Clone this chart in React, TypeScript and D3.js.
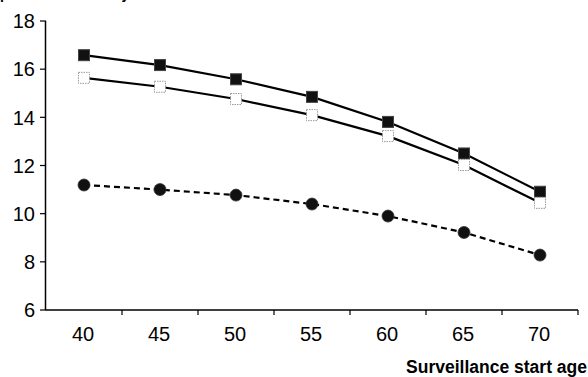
import * as d3 from "d3";
import { useEffect, useRef } from "react";

const WIDTH = 588;
const HEIGHT = 377;
const MARGIN = { top: 21, right: 10, bottom: 67, left: 46 };

const ages = [40, 45, 50, 55, 60, 65, 70];
const filledSquare = [16.58, 16.17, 15.58, 14.85, 13.81, 12.5, 10.91];
const openSquare = [15.64, 15.27, 14.76, 14.09, 13.22, 12.02, 10.45];
const circles = [11.19, 11.0, 10.77, 10.4, 9.9, 9.22, 8.28];
const yTicks = [6, 8, 10, 12, 14, 16, 18];

const FONT = "'Liberation Sans', Arial, sans-serif";

export default function App() {
  const ref = useRef<SVGSVGElement>(null);

  useEffect(() => {
    const svg = d3.select(ref.current);
    svg.selectAll("*").remove();

    const innerW = WIDTH - MARGIN.left - MARGIN.right;
    const innerH = HEIGHT - MARGIN.top - MARGIN.bottom;
    const g = svg.append("g").attr("transform", `translate(${MARGIN.left},${MARGIN.top})`);

    const x = d3.scaleBand<number>().domain(ages).range([0, innerW]).padding(0);
    const y = d3.scaleLinear().domain([6, 18]).range([innerH, 0]);
    const cx = (a: number) => (x(a) ?? 0) + x.bandwidth() / 2;

    // heading cut off by the top edge in the source (only descenders show)
    svg
      .append("text")
      .attr("x", 0)
      .attr("y", -1)
      .attr("font-family", FONT)
      .attr("font-weight", "bold")
      .attr("font-size", 14)
      .text("per 1000 women by");

    // y axis
    g.append("line")
      .attr("x1", -0.5)
      .attr("x2", -0.5)
      .attr("y1", y(18))
      .attr("y2", innerH)
      .attr("stroke", "#000")
      .attr("stroke-width", 1.5);
    g.append("g")
      .selectAll("line")
      .data(yTicks)
      .join("line")
      .attr("x1", -6)
      .attr("x2", 0)
      .attr("y1", (d) => y(d))
      .attr("y2", (d) => y(d))
      .attr("stroke", "#000")
      .attr("stroke-width", 1.2);
    g.append("g")
      .selectAll("text")
      .data(yTicks)
      .join("text")
      .attr("x", -11)
      .attr("y", (d) => y(d))
      .attr("dy", "0.36em")
      .attr("text-anchor", "end")
      .attr("font-family", FONT)
      .attr("font-size", 20)
      .text((d) => d);

    // x axis
    g.append("line")
      .attr("x1", -0.5)
      .attr("x2", innerW)
      .attr("y1", innerH)
      .attr("y2", innerH)
      .attr("stroke", "#000")
      .attr("stroke-width", 1.5);
    const bounds = ages.map((a) => (x(a) ?? 0) + x.bandwidth());
    g.append("g")
      .selectAll("line")
      .data(bounds)
      .join("line")
      .attr("x1", (d) => d)
      .attr("x2", (d) => d)
      .attr("y1", innerH)
      .attr("y2", innerH + 5)
      .attr("stroke", "#000")
      .attr("stroke-width", 1.2);
    g.append("g")
      .selectAll("text")
      .data(ages)
      .join("text")
      .attr("x", (d) => cx(d) - 1)
      .attr("y", innerH + 31)
      .attr("text-anchor", "middle")
      .attr("font-family", FONT)
      .attr("font-size", 20)
      .text((d) => d);

    svg
      .append("text")
      .attr("x", WIDTH - 1)
      .attr("y", 373)
      .attr("text-anchor", "end")
      .attr("font-family", FONT)
      .attr("font-weight", "bold")
      .attr("font-size", 17.5)
      .text("Surveillance start age");

    const line = d3
      .line<number>()
      .x((_, i) => cx(ages[i]))
      .y((d) => y(d));

    g.append("path")
      .attr("d", line(filledSquare))
      .attr("fill", "none")
      .attr("stroke", "#000")
      .attr("stroke-width", 2.2);
    g.append("path")
      .attr("d", line(openSquare))
      .attr("fill", "none")
      .attr("stroke", "#000")
      .attr("stroke-width", 2.2);
    g.append("path")
      .attr("d", line(circles))
      .attr("fill", "none")
      .attr("stroke", "#000")
      .attr("stroke-width", 2.2)
      .attr("stroke-dasharray", "6,4");

    const S = 11;
    g.append("g")
      .selectAll("rect")
      .data(filledSquare)
      .join("rect")
      .attr("x", (_, i) => cx(ages[i]) - S / 2)
      .attr("y", (d) => y(d) - S / 2)
      .attr("width", S)
      .attr("height", S)
      .attr("fill", "#111")
      .attr("stroke", "#444")
      .attr("stroke-width", 1);
    g.append("g")
      .selectAll("rect")
      .data(openSquare)
      .join("rect")
      .attr("x", (_, i) => cx(ages[i]) - S / 2)
      .attr("y", (d) => y(d) - S / 2)
      .attr("width", S)
      .attr("height", S)
      .attr("fill", "#fff")
      .attr("stroke", "#999")
      .attr("stroke-width", 1)
      .attr("stroke-dasharray", "1.5,1");
    g.append("g")
      .selectAll("circle")
      .data(circles)
      .join("circle")
      .attr("cx", (_, i) => cx(ages[i]))
      .attr("cy", (d) => y(d))
      .attr("r", 6)
      .attr("fill", "#111")
      .attr("stroke", "#333")
      .attr("stroke-width", 0.8);
  }, []);

  return (
    <svg
      ref={ref}
      width={WIDTH}
      height={HEIGHT}
      viewBox={`0 0 ${WIDTH} ${HEIGHT}`}
      style={{ position: "absolute", left: 0, top: 0, background: "#fff" }}
    />
  );
}
